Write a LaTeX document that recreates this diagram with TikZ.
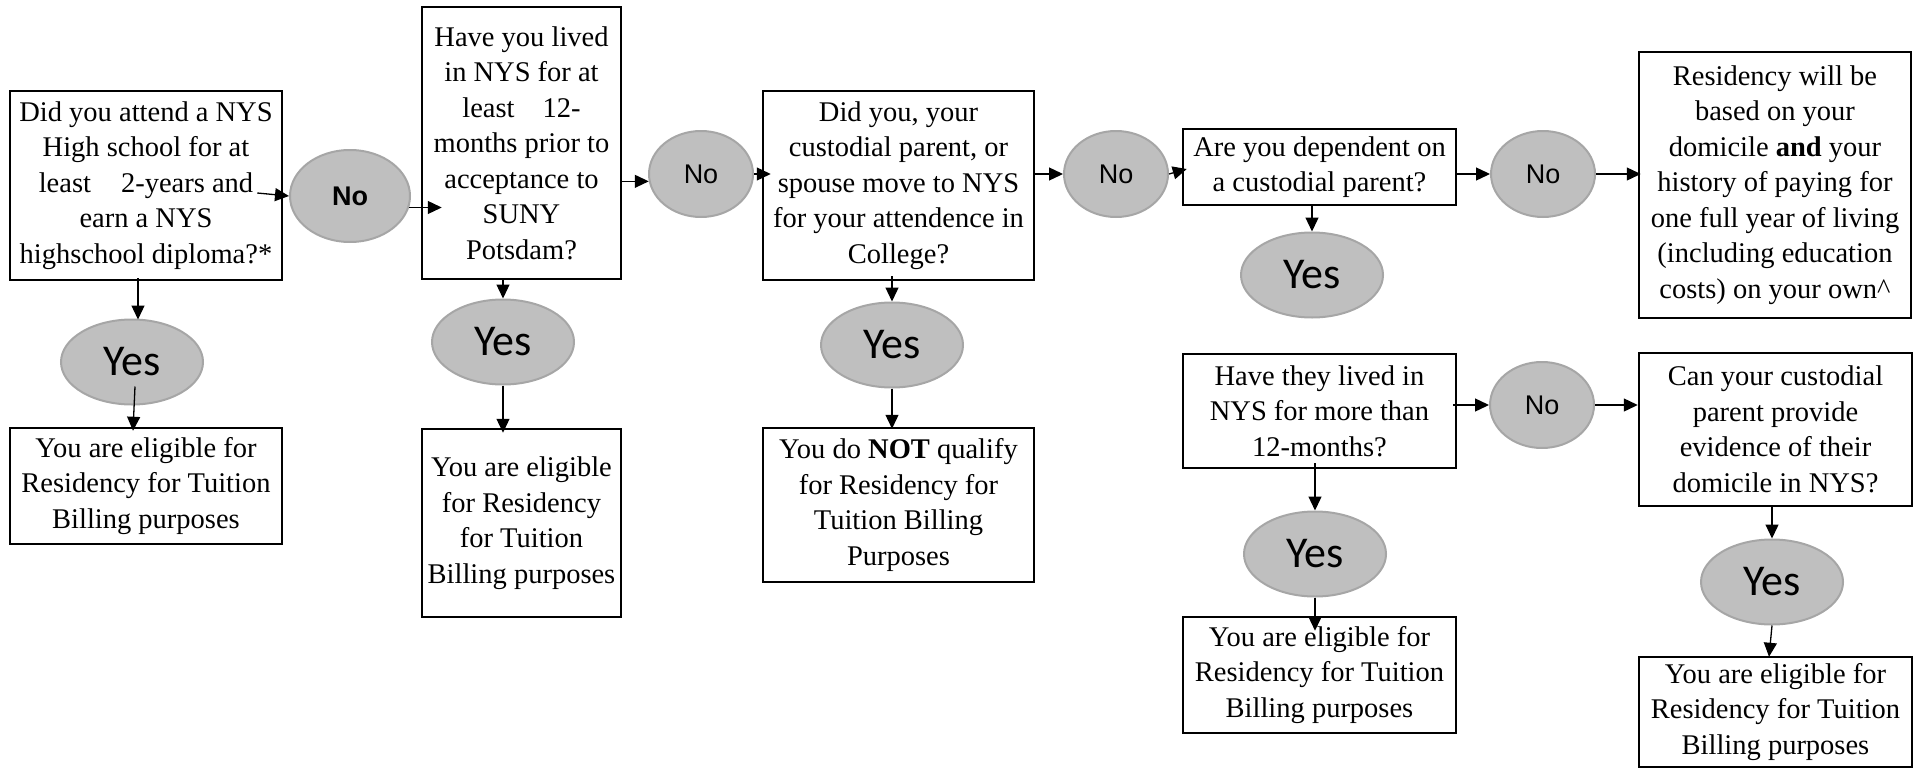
\documentclass[tikz,border=0pt]{standalone}
\usepackage{fontspec}
\setmainfont{Liberation Serif}
\newfontfamily\yesfont{Carlito}
\newfontfamily\nofont{Liberation Sans}
\usetikzlibrary{arrows.meta,shapes.geometric,calc}
\definecolor{ovalfill}{RGB}{191,191,191}
\definecolor{ovalline}{RGB}{166,166,166}
\begin{document}
\begin{tikzpicture}[x=1pt,y=-1pt,
 box/.style={draw=black,line width=2.5pt,inner sep=0pt,align=center,font=\fontsize{28.5}{35.5}\selectfont},
 oval/.style={ellipse,draw=ovalline,fill=ovalfill,line width=2pt,inner sep=0pt},
 yesnode/.style={oval,minimum width=142pt,minimum height=85pt,font=\yesfont\fontsize{44}{44}\selectfont},
 nonode/.style={oval,minimum width=104pt,minimum height=86pt,font=\nofont\fontsize{27}{27}\selectfont},
 arr/.style={line width=1.3pt,-{Triangle[length=14pt,width=13pt]}}
]
\useasboundingbox (0,0) rectangle (1913,768);

% column 1
\node[box,minimum width=272pt,minimum height=189pt] (b1) at (146,185.5)
 {Did you attend a NYS\\ High school for at\\ least\hspace{30pt}2-years and\\ earn a NYS\\ highschool diploma?*};
\node[nonode,minimum width=120pt,minimum height=92pt,font=\nofont\bfseries\fontsize{27}{27}\selectfont] (n1) at (350,196) {No};
\node[yesnode] (y1) at (132,362) {Yes};
\node[box,minimum width=272pt,minimum height=116pt] (r1) at (146,486)
 {You are eligible for\\ Residency for Tuition\\ Billing purposes};

% column 2
\node[box,minimum width=199pt,minimum height=272pt] (b2) at (521.5,143)
 {Have you lived\\ in NYS for at\\ least\hspace{28pt}12-\\ months prior to\\ acceptance to\\ SUNY\\ Potsdam?};
\node[nonode] (n2) at (701,174) {No};
\node[yesnode] (y2) at (503,342) {Yes};
\node[box,minimum width=199pt,minimum height=188pt] (r2) at (521.5,523)
 {You are eligible\\ for Residency\\ for Tuition\\ Billing purposes};

% column 3
\node[box,minimum width=271pt,minimum height=189pt] (b3) at (898.5,185.5)
 {Did you, your\\ custodial parent, or\\ spouse move to NYS\\ for your attendence in\\ College?};
\node[nonode] (n3) at (1116,174) {No};
\node[yesnode] (y3) at (892,345) {Yes};
\node[box,minimum width=271pt,minimum height=154pt] (r3) at (898.5,505)
 {You do \textbf{NOT} qualify\\ for Residency for\\ Tuition Billing\\ Purposes};

% column 4
\node[box,minimum width=273pt,minimum height=76pt] (b4) at (1319.5,167)
 {Are you dependent on\\ a custodial parent?};
\node[nonode] (n4) at (1543,174) {No};
\node[yesnode] (y4) at (1312,275) {Yes};
\node[box,minimum width=272pt,minimum height=266pt] (b5) at (1775,185)
 {Residency will be\\ based on your\\ domicile \textbf{and} your\\ history of paying for\\ one full year of living\\ (including education\\ costs) on your own\textasciicircum};

\node[box,minimum width=273pt,minimum height=114pt] (b6) at (1319.5,411)
 {Have they lived in\\ NYS for more than\\ 12-months?};
\node[nonode] (n6) at (1542,405) {No};
\node[yesnode] (y6) at (1315,554) {Yes};
\node[box,minimum width=273pt,minimum height=116pt] (r6) at (1319.5,675)
 {You are eligible for\\ Residency for Tuition\\ Billing purposes};

\node[box,minimum width=273pt,minimum height=153pt] (b7) at (1775.5,429.5)
 {Can your custodial\\ parent provide\\ evidence of their\\ domicile in NYS?};
\node[yesnode] (y7) at (1772,582) {Yes};
\node[box,minimum width=273pt,minimum height=110pt] (r7) at (1775.5,712)
 {You are eligible for\\ Residency for Tuition\\ Billing purposes};

% connectors
\draw[arr] ($(b1.east)+(-26,7.5)$) -- (n1.west);
\draw[arr] ($(y1.north |- b1.south)+(6,-3)$) -- ($(y1.north)+(6,1)$);
\draw[arr] ($(y1.south)+(3,-19)$) -- ($(y1.south |- r1.north)+(1,4)$);
\draw[arr] (n1.-11) -- ($(n1.-11 -| b2.west)+(21,0)$);
\draw[arr] (b2.east |- n2.188) -- (n2.188);
\draw[arr] (y2.north |- b2.south) -- (y2.north);
\draw[arr] (y2.south) -- ($(y2.south |- r2.north)+(0,5)$);
\draw[arr] (n2.east) -- ($(n2.east -| b3.west)+(9,0)$);
\draw[arr] (b3.east |- n3.west) -- (n3.west);
\draw[arr] ($(y3.north |- b3.south)+(0,-5)$) -- (y3.north);
\draw[arr] (y3.south) -- ($(y3.south |- r3.north)+(0,2)$);
\draw[arr] (n3.east) -- ($(b4.west)+(5,2)$);
\draw[arr] (b4.east |- n4.west) -- (n4.west);
\draw[arr] (n4.east) -- ($(n4.east -| b5.west)+(3,0)$);
\draw[arr] (y4.north |- b4.south) -- (y4.north);
\draw[arr] ($(n6.west -| b6.east)+(-4,0)$) -- (n6.west);
\draw[arr] ($(y6.north |- b6.south)+(0,-6)$) -- (y6.north);
\draw[arr] (y6.south) -- ($(y6.south |- r6.north)+(0,15)$);
\draw[arr] (n6.east) -- (b7.west |- n6.east);
\draw[arr] (y7.north |- b7.south) -- (y7.north);
\draw[arr] (y7.south) -- ($(y7.south |- r7.north)+(-3,1)$);
\end{tikzpicture}
\end{document}
